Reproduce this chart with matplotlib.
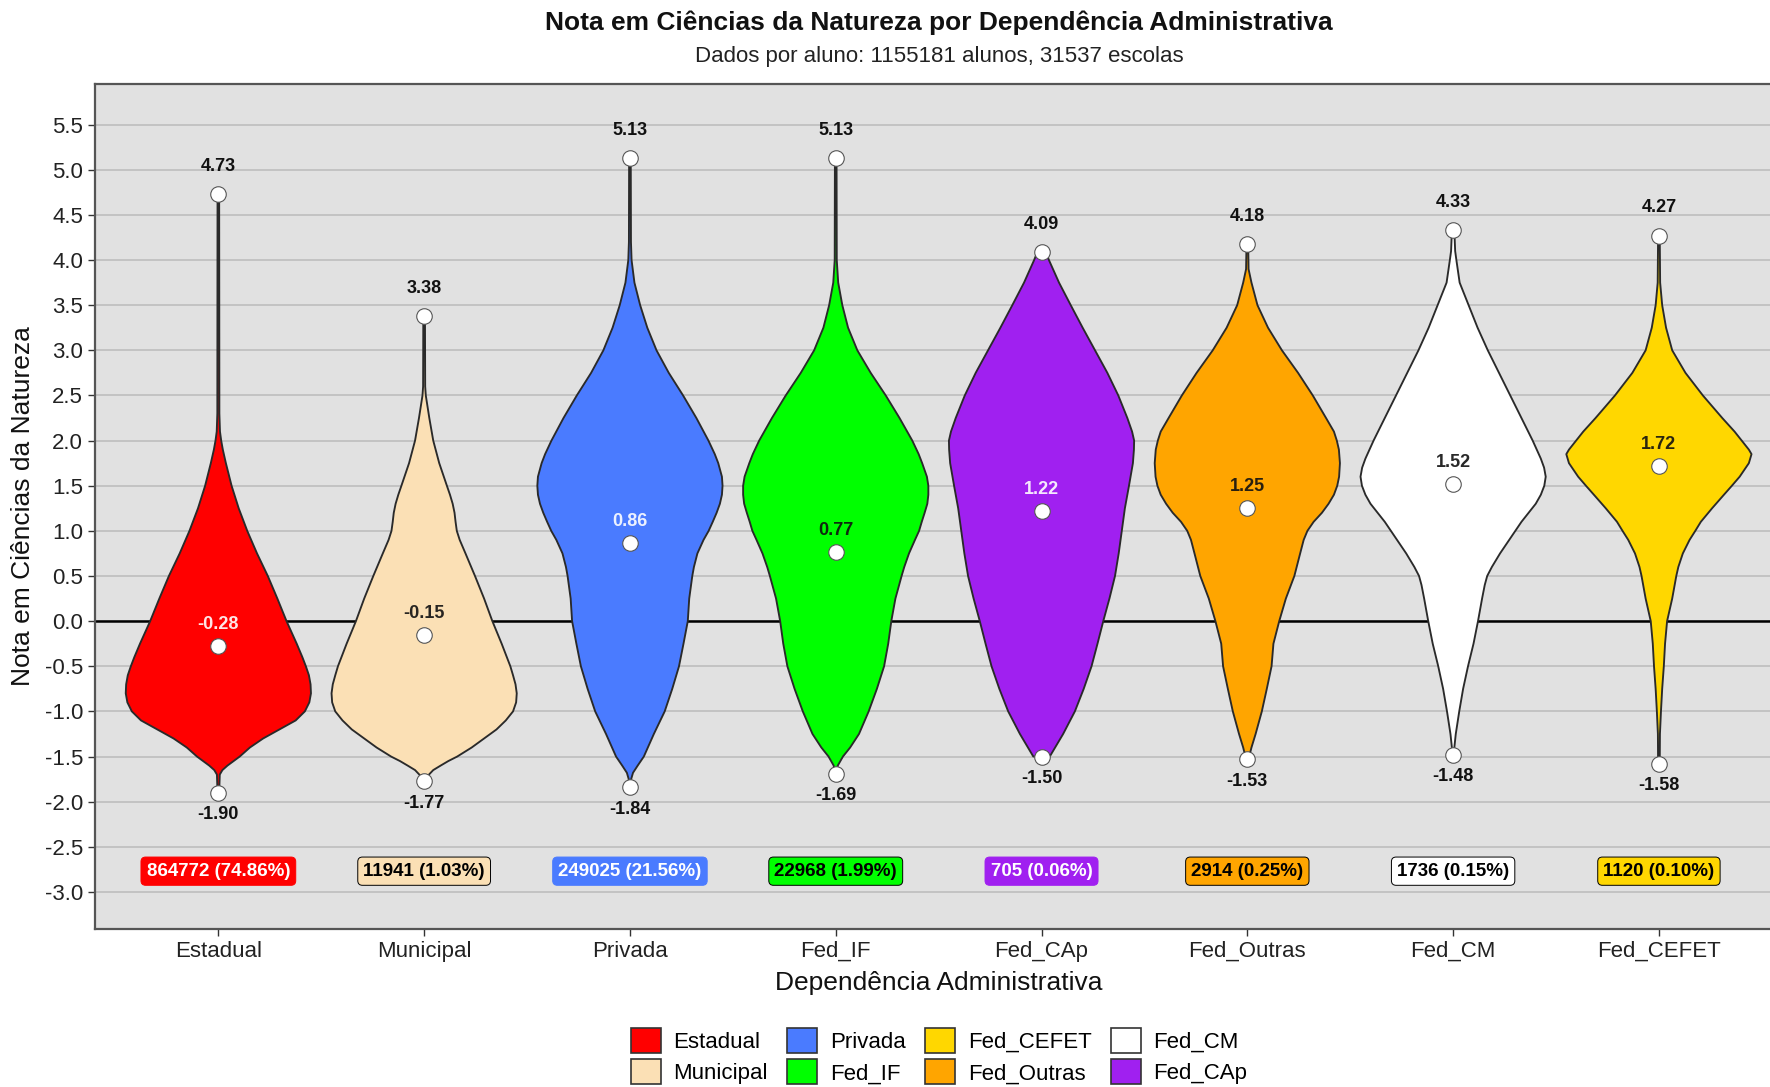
import numpy as np
import matplotlib.pyplot as plt
from matplotlib.patches import Patch

plt.rcParams['font.family'] = ['Liberation Sans', 'DejaVu Sans']
plt.rcParams['axes.unicode_minus'] = False

categories = ['Estadual', 'Municipal', 'Privada', 'Fed_IF', 'Fed_CAp', 'Fed_Outras', 'Fed_CM', 'Fed_CEFET']
fill_colors = ['#FF0000', '#FBE0B5', '#4A7BFF', '#00FF00', '#A020F0', '#FFA500', '#FFFFFF', '#FFD700']
text_colors = ['white', 'black', 'white', 'black', 'white', 'black', 'black', 'black']
means = [-0.28, -0.15, 0.86, 0.77, 1.22, 1.25, 1.52, 1.72]
mins = [-1.90, -1.77, -1.84, -1.69, -1.50, -1.53, -1.48, -1.58]
maxs = [4.73, 3.38, 5.13, 5.13, 4.09, 4.18, 4.33, 4.27]
counts = [864772, 11941, 249025, 22968, 705, 2914, 1736, 1120]
n_escolas = 31537

# violin outlines: (nota, relative half width)
estadual_prof = [(4.73, 0.004), (2.3, 0.005), (2.1, 0.008), (2.0, 0.014), (1.9, 0.022), (1.75, 0.037),
                 (1.5, 0.065), (1.25, 0.10), (1.0, 0.142), (0.75, 0.19), (0.5, 0.243), (0.25, 0.29),
                 (0.0, 0.335), (-0.25, 0.385), (-0.4, 0.413), (-0.5, 0.43), (-0.6, 0.445), (-0.7, 0.453),
                 (-0.8, 0.455), (-0.9, 0.447), (-1.0, 0.425), (-1.1, 0.38), (-1.2, 0.30), (-1.3, 0.22),
                 (-1.4, 0.155), (-1.5, 0.105), (-1.55, 0.075), (-1.6, 0.045), (-1.65, 0.02),
                 (-1.7, 0.007), (-1.9, 0.004)]
municipal_prof = [(3.38, 0.004), (2.6, 0.005), (2.5, 0.008), (2.25, 0.025), (2.0, 0.044), (1.75, 0.073),
                  (1.5, 0.11), (1.4, 0.125), (1.3, 0.138), (1.2, 0.147), (1.1, 0.152), (1.0, 0.158),
                  (0.9, 0.172), (0.75, 0.20), (0.5, 0.246), (0.25, 0.29), (0.0, 0.33), (-0.25, 0.375),
                  (-0.5, 0.417), (-0.6, 0.43), (-0.7, 0.442), (-0.8, 0.448), (-0.9, 0.445), (-1.0, 0.43),
                  (-1.1, 0.395), (-1.2, 0.35), (-1.3, 0.29), (-1.4, 0.23), (-1.5, 0.16), (-1.55, 0.117),
                  (-1.6, 0.08), (-1.65, 0.044), (-1.72, 0.015), (-1.77, 0.006)]
privada_prof = [(5.13, 0.004), (4.2, 0.005), (4.0, 0.008), (3.75, 0.022), (3.5, 0.05), (3.25, 0.085),
                (3.0, 0.13), (2.75, 0.19), (2.5, 0.26), (2.25, 0.325), (2.0, 0.384), (1.85, 0.415),
                (1.75, 0.432), (1.6, 0.45), (1.5, 0.453), (1.4, 0.45), (1.3, 0.44), (1.2, 0.424),
                (1.1, 0.405), (1.0, 0.385), (0.9, 0.36), (0.75, 0.33), (0.6, 0.313), (0.5, 0.305),
                (0.25, 0.29), (0.0, 0.283), (-0.25, 0.262), (-0.5, 0.24), (-0.75, 0.207), (-1.0, 0.17),
                (-1.25, 0.117), (-1.5, 0.068), (-1.6, 0.038), (-1.68, 0.015), (-1.75, 0.006),
                (-1.84, 0.004)]
fed_if_prof = [(5.13, 0.004), (4.0, 0.005), (3.75, 0.012), (3.5, 0.032), (3.25, 0.06), (3.0, 0.105),
               (2.75, 0.17), (2.5, 0.243), (2.25, 0.31), (2.0, 0.372), (1.85, 0.403), (1.75, 0.42),
               (1.6, 0.443), (1.5, 0.45), (1.4, 0.45), (1.3, 0.445), (1.2, 0.432), (1.1, 0.418),
               (1.0, 0.405), (0.9, 0.385), (0.75, 0.356), (0.6, 0.333), (0.5, 0.32), (0.25, 0.29),
               (0.0, 0.27), (-0.25, 0.255), (-0.5, 0.235), (-0.75, 0.2), (-1.0, 0.16), (-1.25, 0.113),
               (-1.4, 0.07), (-1.5, 0.035), (-1.6, 0.01), (-1.69, 0.004)]
fed_cap_prof = [(4.09, 0.02), (4.0, 0.036), (3.75, 0.085), (3.5, 0.142), (3.25, 0.2), (3.0, 0.26),
                (2.75, 0.32), (2.5, 0.373), (2.25, 0.417), (2.1, 0.44), (2.0, 0.45), (1.9, 0.449),
                (1.75, 0.444), (1.5, 0.425), (1.25, 0.405), (1.0, 0.39), (0.75, 0.375), (0.5, 0.357),
                (0.25, 0.33), (0.0, 0.30), (-0.25, 0.272), (-0.5, 0.243), (-0.75, 0.205), (-1.0, 0.162),
                (-1.25, 0.105), (-1.5, 0.04)]
fed_outras_prof = [(4.18, 0.004), (3.9, 0.006), (3.75, 0.02), (3.5, 0.049), (3.25, 0.10), (3.0, 0.167),
                   (2.75, 0.245), (2.5, 0.316), (2.25, 0.38), (2.1, 0.418), (2.0, 0.432), (1.9, 0.442),
                   (1.75, 0.447), (1.6, 0.443), (1.5, 0.434), (1.4, 0.418), (1.3, 0.392), (1.2, 0.36),
                   (1.1, 0.32), (1.0, 0.29), (0.9, 0.272), (0.75, 0.255), (0.5, 0.227), (0.25, 0.186),
                   (0.0, 0.154), (-0.25, 0.126), (-0.5, 0.117), (-0.75, 0.094), (-1.0, 0.07),
                   (-1.25, 0.04), (-1.4, 0.02), (-1.53, 0.006)]
fed_cm_prof = [(4.33, 0.006), (4.1, 0.01), (4.0, 0.016), (3.75, 0.032), (3.5, 0.076), (3.25, 0.12),
               (3.0, 0.17), (2.75, 0.225), (2.5, 0.28), (2.25, 0.335), (2.0, 0.39), (1.9, 0.41),
               (1.8, 0.43), (1.7, 0.446), (1.6, 0.454), (1.5, 0.447), (1.4, 0.43), (1.3, 0.405),
               (1.2, 0.37), (1.1, 0.335), (1.0, 0.305), (0.9, 0.275), (0.75, 0.23), (0.6, 0.19),
               (0.5, 0.167), (0.4, 0.155), (0.25, 0.142), (0.0, 0.122), (-0.25, 0.10), (-0.5, 0.073),
               (-0.75, 0.049), (-1.0, 0.03), (-1.25, 0.013), (-1.4, 0.006), (-1.48, 0.005)]
fed_cefet_prof = [(4.27, 0.004), (3.75, 0.006), (3.5, 0.016), (3.25, 0.035), (3.0, 0.065), (2.75, 0.13),
                  (2.5, 0.215), (2.25, 0.31), (2.1, 0.37), (2.0, 0.405), (1.9, 0.44), (1.85, 0.453),
                  (1.75, 0.44), (1.6, 0.395), (1.5, 0.357), (1.4, 0.318), (1.25, 0.26), (1.1, 0.205),
                  (1.0, 0.178), (0.9, 0.15), (0.75, 0.117), (0.6, 0.095), (0.5, 0.085), (0.25, 0.065),
                  (0.0, 0.04), (-0.25, 0.03), (-0.5, 0.024), (-0.75, 0.016), (-1.0, 0.01),
                  (-1.25, 0.005), (-1.58, 0.004)]
profiles = [estadual_prof, municipal_prof, privada_prof, fed_if_prof,
            fed_cap_prof, fed_outras_prof, fed_cm_prof, fed_cefet_prof]

total = sum(counts)
fig = plt.figure(figsize=(17.7, 10.87), dpi=100)
ax = fig.add_axes([0.0536, 0.1454, 1.007 - 0.0536, 0.9227 - 0.1454])
ax.set_facecolor('#E1E1E1')

yticks = np.arange(-3.0, 5.51, 0.5)
for yt in yticks:
    ax.axhline(yt, color='#BDBDBD', lw=1.2, zorder=1)
ax.axhline(0, color='black', lw=1.8, zorder=2)

for i, prof in enumerate(profiles):
    x0 = i + 1
    y = np.array([p[0] for p in prof])
    w = np.array([p[1] for p in prof])
    w = w / w.max() * 0.45
    xs = np.concatenate([x0 - w, (x0 + w)[::-1]])
    ys = np.concatenate([y, y[::-1]])
    ax.fill(xs, ys, facecolor=fill_colors[i], edgecolor='#2A2A2A', lw=1.35, zorder=3,
            joinstyle='round')
    ax.scatter([x0, x0, x0], [mins[i], means[i], maxs[i]], s=125, facecolor='white',
               edgecolor='#555555', linewidth=0.8, zorder=5)
    ax.annotate(f'{maxs[i]:.2f}', (x0, maxs[i]), xytext=(0, 20), textcoords='offset points',
                ha='center', va='center', fontsize=13, fontweight='bold', color='#111111', zorder=6)
    ax.annotate(f'{mins[i]:.2f}', (x0, mins[i]), xytext=(0, -16), textcoords='offset points',
                ha='center', va='center', fontsize=13, fontweight='bold', color='#111111', zorder=6)
    mcol = 'white' if text_colors[i] == 'white' else '#111111'
    ax.annotate(f'{means[i]:.2f}', (x0, means[i]), xytext=(0, 15.5), textcoords='offset points',
                ha='center', va='center', fontsize=13, fontweight='bold', color=mcol, alpha=0.9, zorder=6)
    ax.text(x0, -2.77, f'{counts[i]} ({counts[i] / total * 100:.2f}%)', ha='center', va='center',
            fontsize=13.5, fontweight='bold', color=text_colors[i], zorder=6,
            bbox=dict(boxstyle='round,pad=0.3,rounding_size=0.25', facecolor=fill_colors[i],
                      edgecolor=text_colors[i] if text_colors[i] == 'black' else fill_colors[i], lw=0.7))

ax.set_xlim(0.4, 8.6)
ax.set_ylim(-3.41, 5.95)
ax.set_xticks(range(1, len(categories) + 1))
ax.set_xticklabels(categories)
ax.set_yticks(yticks)
ax.set_yticklabels([f'{v:.1f}' for v in yticks])
ax.tick_params(axis='both', labelsize=16, colors='#333333', length=5, width=1, labelcolor='#222222')
for side in ['top', 'left', 'bottom', 'right']:
    ax.spines[side].set_color('#555555')
    ax.spines[side].set_linewidth(1.6)
ax.set_xlabel('Dependência Administrativa', fontsize=19, color='#111111', labelpad=7)
ax.set_ylabel('Nota em Ciências da Natureza', fontsize=19, color='#111111', labelpad=7)

fig.text(0.5306, 0.979, 'Nota em Ciências da Natureza por Dependência Administrativa',
         ha='center', va='center', fontsize=19, fontweight='bold', color='#111111')
fig.text(0.5306, 0.948, f'Dados por aluno: {total} alunos, {n_escolas} escolas',
         ha='center', va='center', fontsize=16, color='#222222')

order = [0, 1, 2, 3, 7, 5, 6, 4]
handles = [Patch(facecolor=fill_colors[k], edgecolor='#333333', lw=1.2) for k in order]
fig.legend(handles, [categories[k] for k in order], ncol=4, loc='center',
           bbox_to_anchor=(0.5306, 0.0285), frameon=False, fontsize=16,
           handlelength=1.35, handleheight=1.35, handletextpad=0.55, columnspacing=0.9,
           labelspacing=0.3)

fig.savefig('out.png', dpi=100)
